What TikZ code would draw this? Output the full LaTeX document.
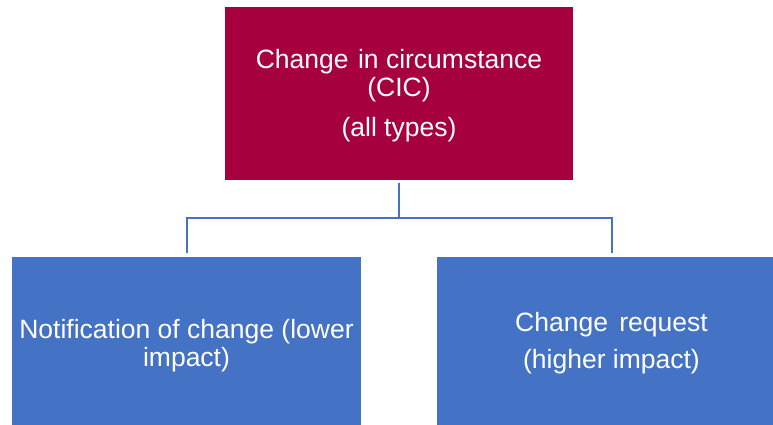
\documentclass[tikz,border=0pt]{standalone}
\usepackage{fontspec}
\setmainfont{Liberation Sans}
\definecolor{cicred}{HTML}{A6003F}
\definecolor{officeblue}{HTML}{4472C4}
\begin{document}
\begin{tikzpicture}[x=1pt,y=1pt,
  boxtext/.style={inner sep=0pt, text=white, align=center,
    font=\fontsize{26.5}{28}\selectfont},
  redbox/.style={rectangle, inner sep=0pt, fill=cicred, minimum width=348pt, minimum height=173pt},
  bluebox/.style={rectangle, inner sep=0pt, fill=officeblue, minimum width=349pt, minimum height=168pt},
  conn/.style={draw=officeblue, line width=2pt}]
\useasboundingbox (0,0) rectangle (773,-425);
\node[redbox] (top) at (399,-93.5) {};
\node[bluebox] (left) at (186.5,-341) {};
\node[bluebox] (right) at (611.5,-341) {};
\node[boxtext] (toptext) at ([yshift=-2pt]top.center) {Change\hspace{2pt} in circumstance\\(CIC)\\[12pt](all types)};
\node[boxtext] (lefttext) at ([yshift=-5pt]left.center) {Notification of change (lower\\impact)};
\node[boxtext] (righttext) at ([yshift=-2pt]right.center) {Change\hspace{4pt} request\\[9pt](higher impact)};
\coordinate (bus) at (399,-218);
\draw[conn, shorten <=3pt, shorten >=4pt] (top.south) -- (bus) -| (left.north);
\draw[conn, shorten >=4pt] (bus) -| (right.north);
\end{tikzpicture}
\end{document}
